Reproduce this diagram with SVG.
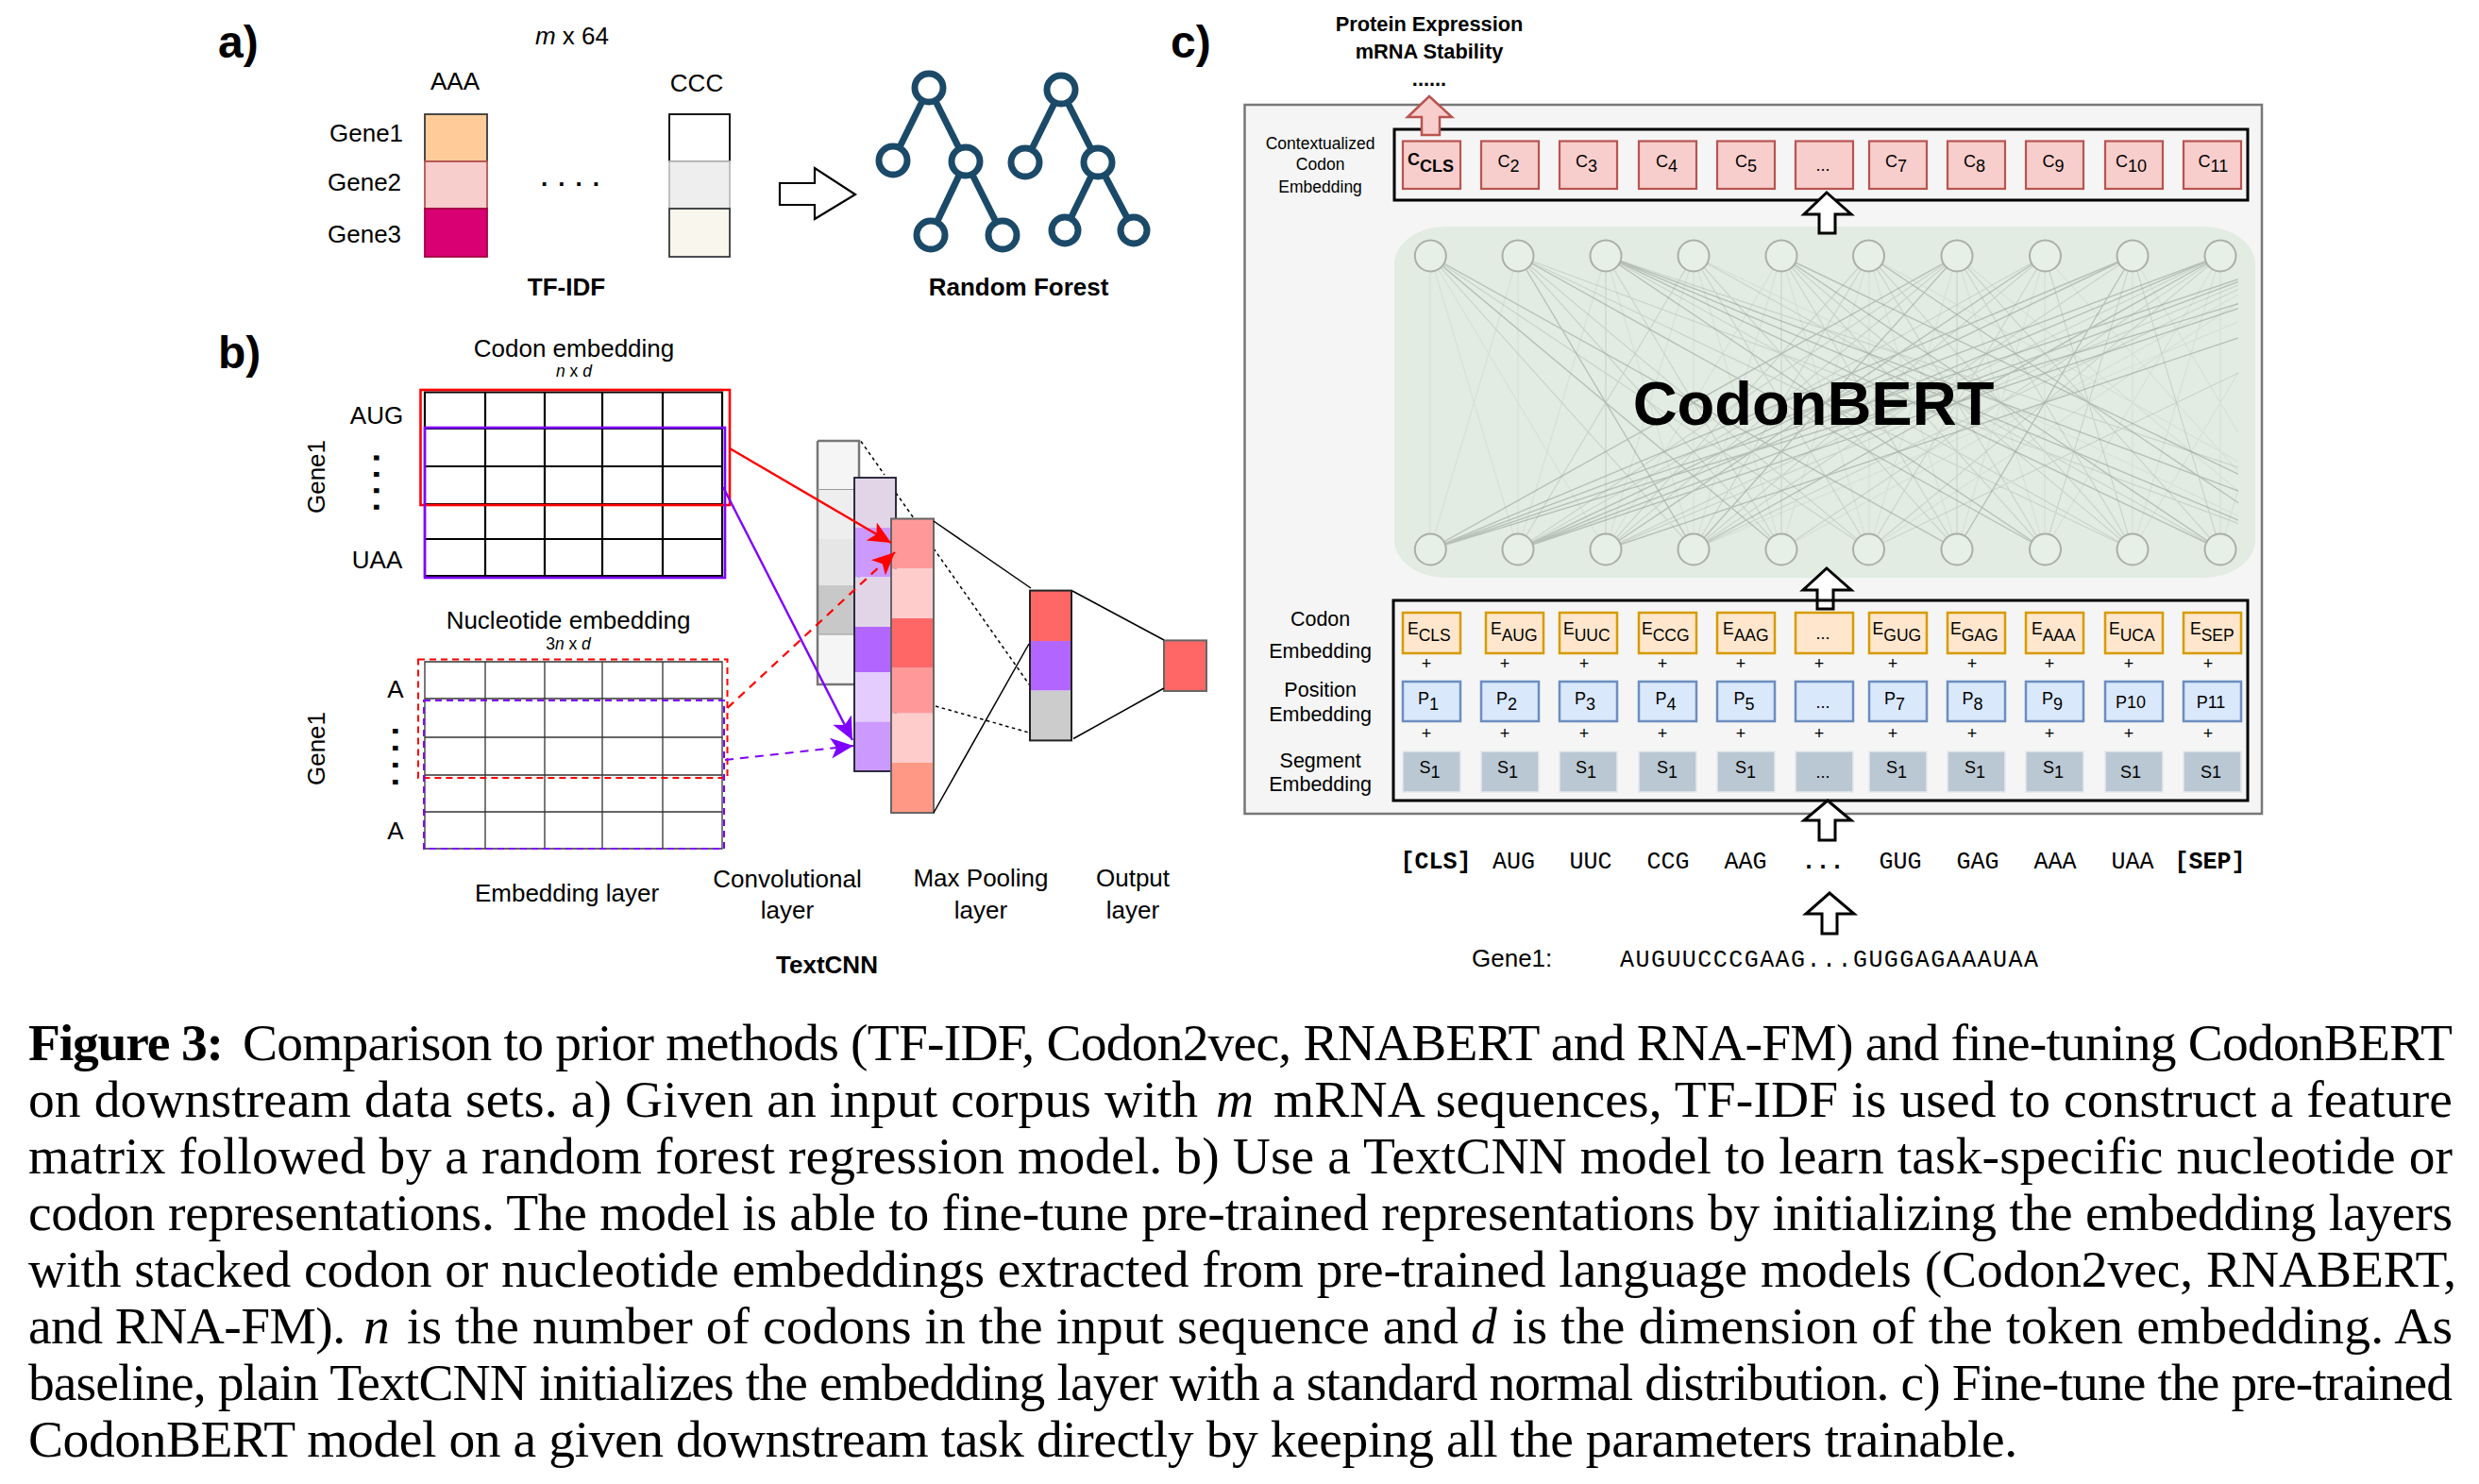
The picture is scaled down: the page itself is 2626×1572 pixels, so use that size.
<svg xmlns="http://www.w3.org/2000/svg" width="2626" height="1572" viewBox="0 0 2626 1572">
<style>
text{font-family:"Liberation Sans",Arial,sans-serif;fill:#000;font-size:26px}
.m{text-anchor:middle}
.b{font-weight:bold}
.i{font-style:italic}
.h{font-size:48px;font-weight:bold}
.s{font-size:17.5px}
.e{font-size:21.5px;text-anchor:middle}
.sm{font-size:18px}
.p{font-size:18px;text-anchor:middle}
.mono{font-family:"Liberation Mono","Courier New",monospace;font-size:25px;text-anchor:middle}
.cap{font-family:"Liberation Serif","Times New Roman",serif;font-size:55.5px}
.vd{font-size:36px;font-weight:bold}
.grid1{fill:none;stroke:#000;stroke-width:2.2}
.grid2{fill:none;stroke:#333;stroke-width:1.3}
.arrow{fill:#fff;stroke:#000;stroke-width:3}
.tree{fill:#fff;stroke:#1b4a68;stroke-width:7}
.tl{stroke:#1b4a68;stroke-width:7}
.c{fill:#f8cecc;stroke:#b85450;stroke-width:2.2}
.ee{fill:#ffe6cc;stroke:#d79b00;stroke-width:2.5}
.pp{fill:#dae8fc;stroke:#6c8ebf;stroke-width:2.5}
.ss{fill:#bac8d3;stroke:#e4e8eb;stroke-width:1.5}
.box{fill:none;stroke:#000;stroke-width:3}
.n{fill:#e6f0e6;stroke:#a9afa9;stroke-width:2}
.thin{stroke:#000;stroke-width:1.5;fill:none}
.dot{stroke:#000;stroke-width:1.5;fill:none;stroke-dasharray:3.5 3.5}
.l1{fill:none;stroke:#7d857d;stroke-width:1.4;opacity:.42}
.l2{fill:none;stroke:#8f968f;stroke-width:1.2;opacity:.28}
.l3{fill:none;stroke:#9aa29a;stroke-width:1.1;opacity:.16}
</style>
<defs>
<marker id="ar" markerUnits="userSpaceOnUse" markerWidth="30" markerHeight="30" refX="24" refY="12" orient="auto" viewBox="0 0 30 24"><path d="M0 1L24 12L0 23L6 12Z" fill="#f00"/></marker>
<marker id="ap" markerUnits="userSpaceOnUse" markerWidth="30" markerHeight="30" refX="24" refY="12" orient="auto" viewBox="0 0 30 24"><path d="M0 1L24 12L0 23L6 12Z" fill="#7f00ff"/></marker>
<clipPath id="nn"><rect x="1477" y="240" width="894" height="372"/></clipPath>
</defs>
<rect width="2626" height="1572" fill="#fff"/>

<g id="panel-a">
<text class="h" x="231" y="61">a)</text>
<text class="m" x="606" y="47"><tspan class="i">m</tspan> x 64</text>
<text class="m" x="482" y="95">AAA</text>
<text class="m" x="738" y="97">CCC</text>
<text x="349" y="150">Gene1</text>
<text x="347" y="202">Gene2</text>
<text x="347" y="257">Gene3</text>
<text x="573" y="197" style="letter-spacing:11px" class="b">....</text>
<text class="m b" x="600" y="313">TF-IDF</text>
<text class="m b" x="1079" y="313">Random Forest</text>
</g>
<g id="aaa-column">
<rect x="450" y="121" width="66" height="50" fill="#ffcc99" stroke="#36393d" stroke-width="1.8"/>
<rect x="450" y="171" width="66" height="50" fill="#f8cecc" stroke="#b85450" stroke-width="1.8"/>
<rect x="450" y="221" width="66" height="51" fill="#d80073" stroke="#a50040" stroke-width="1.8"/>
</g>
<g id="ccc-column">
<rect x="709" y="121" width="64" height="50" fill="#fff" stroke="#000" stroke-width="1.8"/>
<rect x="709" y="171" width="64" height="50" fill="#eee" stroke="#bbb" stroke-width="1.8"/>
<rect x="709" y="221" width="64" height="51" fill="#f9f7ed" stroke="#36393d" stroke-width="1.8"/>
</g>
<g id="a-arrow"><polygon class="arrow" points="826,194 863,194 863,178 906,206 863,232 863,217 826,217" style="stroke-width:2.2"/></g>
<g id="forest">
<path class="tl" d="M984 93L946 170M984 93L1023 171M1023 171L986 249M1023 171L1062 249M1124 95L1086 172M1124 95L1163 172M1163 172L1128 244M1163 172L1201 244"/>
<circle class="tree" cx="984" cy="93" r="15"/><circle class="tree" cx="946" cy="170" r="15"/><circle class="tree" cx="1023" cy="171" r="15"/><circle class="tree" cx="986" cy="249" r="15"/><circle class="tree" cx="1062" cy="249" r="15"/>
<circle class="tree" cx="1124" cy="95" r="15"/><circle class="tree" cx="1086" cy="172" r="15"/><circle class="tree" cx="1163" cy="172" r="15"/><circle class="tree" cx="1128" cy="244" r="14"/><circle class="tree" cx="1201" cy="244" r="14"/>
</g>

<g id="panel-b-labels">
<text class="h" x="231" y="390">b)</text>
<text class="m" x="608" y="378">Codon embedding</text>
<text class="m" x="608" y="398.5" style="font-size:17.5px"><tspan class="i">n</tspan> x <tspan class="i">d</tspan></text>
<text class="m" x="399" y="449">AUG</text>
<text class="m" x="399.5" y="602">UAA</text>
<text class="vd" transform="translate(396.4 480) rotate(90)" style="letter-spacing:7.4px">....</text>
<text class="m" transform="translate(344 505) rotate(-90)">Gene1</text>
<text class="m" x="602" y="666">Nucleotide embedding</text>
<text class="m" x="602" y="688" style="font-size:17.5px">3<tspan class="i">n</tspan> x <tspan class="i">d</tspan></text>
<text class="m" x="419" y="739">A</text>
<text class="m" x="419" y="888.5">A</text>
<text class="vd" transform="translate(416.4 769.5) rotate(90)" style="letter-spacing:8px">....</text>
<text class="m" transform="translate(344 793) rotate(-90)">Gene1</text>
<text class="m" x="600.5" y="954.5">Embedding layer</text>
<text class="m" x="834" y="940">Convolutional</text><text class="m" x="834" y="973">layer</text>
<text class="m" x="1039" y="939">Max Pooling</text><text class="m" x="1039" y="973">layer</text>
<text class="m" x="1200" y="939">Output</text><text class="m" x="1200" y="973">layer</text>
<text class="m b" x="876" y="1031">TextCNN</text>
</g>
<g id="codon-grid">
<path class="grid1" d="M450 415.5H765V610H450ZM514 415.5V610M577 415.5V610M638 415.5V610M702 415.5V610M450 454H765M450 494H765M450 534H765M450 571H765"/>
</g>
<g id="nucleotide-grid">
<path class="grid2" d="M450 701H765V899H450ZM514 701V899M577 701V899M638 701V899M702 701V899M450 740H765M450 781H765M450 821H765M450 860H765"/>
</g>
<g id="conv-gray">
<rect x="866" y="467" width="44" height="51.5" fill="#f5f5f5"/><rect x="866" y="518.5" width="44" height="52.5" fill="#eee"/><rect x="866" y="571" width="44" height="49" fill="#e6e6e6"/><rect x="866" y="620" width="44" height="52" fill="#c8c8c8"/><rect x="866" y="672" width="44" height="53" fill="#f5f5f5"/>
<path d="M866 467H910V672M866 467V725H910" fill="none" stroke="#777" stroke-width="2.5"/>
<path d="M866 518.5H910M866 672H910" fill="none" stroke="#999" stroke-width="1"/>
</g>
<g id="connectors-dotted">
<path class="dot" d="M912 467.5L937 503M949 522L968 549M989 581L1093 729M991 748L1090 776"/>
</g>
<g id="conv-purple">
<rect x="905" y="506" width="44" height="53" fill="#e1d5e7"/><rect x="905" y="559" width="44" height="52.5" fill="#cc99ff"/><rect x="905" y="611.5" width="44" height="52.5" fill="#e1d5e7"/><rect x="905" y="664" width="44" height="48" fill="#b266ff"/><rect x="905" y="712" width="44" height="52.5" fill="#e5ccff"/><rect x="905" y="764.5" width="44" height="52.5" fill="#cc99ff"/>
<rect x="905" y="506" width="44" height="311" fill="none" stroke="#1a1a2e" stroke-width="1.8"/>
</g>
<g id="conv-red">
<rect x="944" y="549.5" width="45" height="53" fill="#ff9999"/><rect x="944" y="602.5" width="45" height="52.5" fill="#ffcccc"/><rect x="944" y="655" width="45" height="52" fill="#ff6666"/><rect x="944" y="707" width="45" height="48.7" fill="#ff9999"/><rect x="944" y="755.7" width="45" height="52.3" fill="#ffcccc"/><rect x="944" y="808" width="45" height="53" fill="#ff9985"/>
<rect x="944" y="549.5" width="45" height="311.5" fill="none" stroke="#666" stroke-width="2"/>
</g>
<g id="maxpool">
<rect x="1091" y="625.6" width="44" height="53.4" fill="#ff6666"/><rect x="1091" y="679" width="44" height="52.6" fill="#b266ff"/><rect x="1091" y="731.6" width="44" height="52.8" fill="#ccc"/>
<rect x="1091" y="625.6" width="44" height="158.8" fill="none" stroke="#222" stroke-width="2"/>
</g>
<g id="output"><rect x="1233" y="678.4" width="45" height="53.6" fill="#ff6666" stroke="#666" stroke-width="2"/></g>
<g id="connectors">
<path class="thin" d="M989 552L1092 623M989 861L1090 682M1136 626L1233 678M1137 782.5L1233 729"/>
<rect x="445.5" y="413" width="327.5" height="122" fill="none" stroke="#f00" stroke-width="2.6"/>
<rect x="450" y="453" width="318" height="159" fill="none" stroke="#7f00ff" stroke-width="2.6"/>
<rect x="443" y="698.6" width="327.5" height="125.4" fill="none" stroke="#f00" stroke-width="2" stroke-dasharray="7 5"/>
<rect x="449" y="742" width="318" height="157" fill="none" stroke="#7f00ff" stroke-width="2" stroke-dasharray="7 5"/>
<path d="M773 475L944 575" fill="none" stroke="#f00" stroke-width="2.4" marker-end="url(#ar)"/>
<path d="M770.5 750L948 585" fill="none" stroke="#f00" stroke-width="2.2" stroke-dasharray="9 7" marker-end="url(#ar)"/>
<path d="M766 516L903 784" fill="none" stroke="#7f00ff" stroke-width="2.4" marker-end="url(#ap)"/>
<path d="M768 805L904 790" fill="none" stroke="#7f00ff" stroke-width="2.2" stroke-dasharray="9 7" marker-end="url(#ap)"/>
</g>

<g id="panel-c-head">
<text class="h" x="1240" y="61">c)</text>
<text class="m b" x="1514" y="33" style="font-size:21.8px">Protein Expression</text>
<text class="m b" x="1514" y="61.5" style="font-size:21.8px">mRNA Stability</text>
<text class="m b" x="1514" y="91" style="font-size:21.8px">......</text>
</g>
<g id="panel-c-frame"><rect x="1318.5" y="111" width="1077.5" height="751" fill="#f5f5f5" stroke="#777" stroke-width="2.5"/></g>
<g id="network">
<rect x="1477" y="240" width="912" height="372" rx="55" ry="40" fill="#e2ece2"/>
<g clip-path="url(#nn)">
<path class="l1" d="M1515 271L1887 582M1515 271L2073 582M1608 271L1794 582M1608 271L2166 582M1701 271L2166 582M1701 271L2352 582M1701 271L2445 582M1701 271L2538 582M1887 271L2352 582M1887 271L2538 582M1980 271L2445 582M2073 271L1515 582M2073 271L1794 582M2166 271L1701 582M2259 271L1515 582M2259 271L1608 582M2259 271L2073 582M2352 271L1515 582M2352 271L1608 582M2352 271L1794 582M2445 271L1515 582M2445 271L1608 582M2538 271L1515 582M2538 271L1608 582M2631 271L1701 582"/>
<path class="l2" d="M1515 271L1980 582M1515 271L1794 582M1608 271L1887 582M1608 271L1980 582M1608 271L2259 582M1701 271L1887 582M1701 271L2259 582M1794 271L1980 582M1794 271L2073 582M1794 271L2352 582M1887 271L2073 582M1887 271L2166 582M1887 271L2259 582M1980 271L2166 582M1980 271L2259 582M2073 271L1608 582M2073 271L1701 582M2073 271L2259 582M2073 271L2352 582M2166 271L1608 582M2166 271L1794 582M2166 271L1980 582M2166 271L2259 582M2259 271L1794 582M2259 271L2166 582M2259 271L2352 582M2352 271L1701 582M2352 271L1887 582M2352 271L1980 582M1980 271L1701 582M1980 271L1794 582M2445 271L1701 582M2445 271L1794 582M1794 271L1608 582M1701 271L2631 582M1608 271L2445 582M2631 271L1980 582M1701 271L1701 582M1887 271L1887 582M2073 271L2073 582"/>
<path class="l3" d="M1515 271L1515 582M1608 271L1608 582M1794 271L1794 582M1980 271L1980 582M2166 271L2166 582M2259 271L2259 582M2352 271L2352 582M1515 271L1608 582M1515 271L1701 582M1608 271L1515 582M1701 271L1608 582M1701 271L1794 582M1794 271L1701 582M1794 271L1887 582M1887 271L1701 582M1887 271L1794 582M1887 271L1980 582M1980 271L1887 582M1980 271L2073 582M2073 271L1980 582M2073 271L2166 582M2166 271L2073 582M2352 271L2166 582M2352 271L2259 582M2445 271L1887 582M2445 271L1980 582M2538 271L1794 582M1794 271L2445 582M1980 271L2538 582M2073 271L2445 582M2166 271L2445 582M2259 271L2445 582M2445 271L2352 582M2445 271L2259 582"/>
</g>
<text class="m b" x="1921" y="450" style="font-size:65px">CodonBERT</text>
</g>
<g id="bert-top-nodes">
<circle class="n" cx="1515.3" cy="271" r="16.5"/><circle class="n" cx="1608" cy="271" r="16.5"/><circle class="n" cx="1701" cy="271" r="16.5"/><circle class="n" cx="1794" cy="271" r="16.5"/><circle class="n" cx="1887" cy="271" r="16.5"/><circle class="n" cx="1979.5" cy="271" r="16.5"/><circle class="n" cx="2073" cy="271" r="16.5"/><circle class="n" cx="2166.5" cy="271" r="16.5"/><circle class="n" cx="2259" cy="271" r="16.5"/><circle class="n" cx="2352" cy="271" r="16.5"/>
</g>
<g id="bert-bottom-nodes">
<circle class="n" cx="1515.3" cy="582" r="16.5"/><circle class="n" cx="1608" cy="582" r="16.5"/><circle class="n" cx="1701" cy="582" r="16.5"/><circle class="n" cx="1794" cy="582" r="16.5"/><circle class="n" cx="1887" cy="582" r="16.5"/><circle class="n" cx="1979.5" cy="582" r="16.5"/><circle class="n" cx="2073" cy="582" r="16.5"/><circle class="n" cx="2166.5" cy="582" r="16.5"/><circle class="n" cx="2259" cy="582" r="16.5"/><circle class="n" cx="2352" cy="582" r="16.5"/>
</g>

<g id="context-box">
<text class="m s" x="1398.6" y="158">Contextualized</text><text class="m s" x="1398.6" y="180">Codon</text><text class="m s" x="1398.6" y="204">Embedding</text>
<rect class="box" x="1477" y="137" width="904" height="75"/>
</g>
<g id="out-arrow"><polygon points="1514,102 1538,124 1525,124 1525,143 1506,143 1506,124 1491,124" fill="#f8cecc" stroke="#b85450" stroke-width="2.5"/></g>
<g id="c-cells">
<g id="c1"><rect class="c" x="1486" y="149.5" width="61" height="50.5"/><text class="sm b" x="1491" y="175">C<tspan dy="7">CLS</tspan></text></g>
<g id="c2"><rect class="c" x="1569" y="149.5" width="61" height="50.5"/><text class="sm" x="1586.4" y="177">C<tspan dy="5">2</tspan></text></g>
<g id="c3"><rect class="c" x="1652" y="149.5" width="61" height="50.5"/><text class="sm" x="1669" y="177">C<tspan dy="5">3</tspan></text></g>
<g id="c4"><rect class="c" x="1736" y="149.5" width="61" height="50.5"/><text class="sm" x="1754" y="177">C<tspan dy="5">4</tspan></text></g>
<g id="c5"><rect class="c" x="1819" y="149.5" width="61" height="50.5"/><text class="sm" x="1838" y="177">C<tspan dy="5">5</tspan></text></g>
<g id="c6"><rect class="c" x="1902" y="149.5" width="61" height="50.5"/><text class="p" x="1931" y="181">...</text></g>
<g id="c7"><rect class="c" x="1980" y="149.5" width="61" height="50.5"/><text class="sm" x="1997" y="177">C<tspan dy="5">7</tspan></text></g>
<g id="c8"><rect class="c" x="2063" y="149.5" width="61" height="50.5"/><text class="sm" x="2080" y="177">C<tspan dy="5">8</tspan></text></g>
<g id="c9"><rect class="c" x="2146" y="149.5" width="61" height="50.5"/><text class="sm" x="2163.6" y="177">C<tspan dy="5">9</tspan></text></g>
<g id="c10"><rect class="c" x="2230" y="149.5" width="61" height="50.5"/><text class="sm" x="2241" y="177">C<tspan dy="5">10</tspan></text></g>
<g id="c11"><rect class="c" x="2313" y="149.5" width="61" height="50.5"/><text class="sm" x="2328.6" y="177">C<tspan dy="5">11</tspan></text></g>
</g>
<g id="top-arrow"><polygon class="arrow" points="1935,204 1961,227 1944,227 1944,247 1927,247 1927,227 1911,227"/></g>
<g id="mid-arrow"><polygon class="arrow" points="1935,602 1961,625 1942,625 1942,645 1925,645 1925,625 1910,625"/></g>

<g id="embed-box">
<text class="e" x="1398.6" y="663">Codon</text><text class="e" x="1398.6" y="697">Embedding</text>
<text class="e" x="1398.6" y="738">Position</text><text class="e" x="1398.6" y="764">Embedding</text>
<text class="e" x="1398.6" y="813">Segment</text><text class="e" x="1398.6" y="838">Embedding</text>
<rect class="box" x="1476" y="636" width="905" height="212"/>
</g>
<g id="e-cells">
<g id="e1"><rect class="ee" x="1486" y="649" width="61" height="43"/><text class="s" x="1491" y="672">E<tspan dy="7">CLS</tspan></text></g>
<g id="e2"><rect class="ee" x="1574" y="649" width="61" height="43"/><text class="s" x="1579" y="672">E<tspan dy="7">AUG</tspan></text></g>
<g id="e3"><rect class="ee" x="1652" y="649" width="61" height="43"/><text class="s" x="1656" y="672">E<tspan dy="7">UUC</tspan></text></g>
<g id="e4"><rect class="ee" x="1736" y="649" width="61" height="43"/><text class="s" x="1739" y="672">E<tspan dy="7">CCG</tspan></text></g>
<g id="e5"><rect class="ee" x="1819" y="649" width="61" height="43"/><text class="s" x="1825" y="672">E<tspan dy="7">AAG</tspan></text></g>
<g id="e6"><rect class="ee" x="1902" y="649" width="61" height="43"/><text class="p" x="1931" y="677">...</text></g>
<g id="e7"><rect class="ee" x="1980" y="649" width="61" height="43"/><text class="s" x="1983.6" y="672">E<tspan dy="7">GUG</tspan></text></g>
<g id="e8"><rect class="ee" x="2063" y="649" width="61" height="43"/><text class="s" x="2066" y="672">E<tspan dy="7">GAG</tspan></text></g>
<g id="e9"><rect class="ee" x="2146" y="649" width="61" height="43"/><text class="s" x="2152" y="672">E<tspan dy="7">AAA</tspan></text></g>
<g id="e10"><rect class="ee" x="2230" y="649" width="61" height="43"/><text class="s" x="2234" y="672">E<tspan dy="7">UCA</tspan></text></g>
<g id="e11"><rect class="ee" x="2313" y="649" width="61" height="43"/><text class="s" x="2320" y="672">E<tspan dy="7">SEP</tspan></text></g>
</g>
<g id="plus-signs">
<text class="p" x="1511" y="709">+</text><text class="p" x="1594" y="709">+</text><text class="p" x="1678" y="709">+</text><text class="p" x="1761" y="709">+</text><text class="p" x="1844" y="709">+</text><text class="p" x="1927" y="709">+</text><text class="p" x="2005" y="709">+</text><text class="p" x="2089" y="709">+</text><text class="p" x="2171" y="709">+</text><text class="p" x="2255" y="709">+</text><text class="p" x="2339" y="709">+</text>
<text class="p" x="1511" y="783">+</text><text class="p" x="1594" y="783">+</text><text class="p" x="1678" y="783">+</text><text class="p" x="1761" y="783">+</text><text class="p" x="1844" y="783">+</text><text class="p" x="1927" y="783">+</text><text class="p" x="2005" y="783">+</text><text class="p" x="2089" y="783">+</text><text class="p" x="2171" y="783">+</text><text class="p" x="2255" y="783">+</text><text class="p" x="2339" y="783">+</text>
</g>
<g id="p-cells">
<g id="p1"><rect class="pp" x="1486" y="722" width="61" height="42"/><text class="sm" x="1502" y="746">P<tspan dy="6">1</tspan></text></g>
<g id="p2"><rect class="pp" x="1569" y="722" width="61" height="42"/><text class="sm" x="1585" y="746">P<tspan dy="6">2</tspan></text></g>
<g id="p3"><rect class="pp" x="1652" y="722" width="61" height="42"/><text class="sm" x="1668" y="746">P<tspan dy="6">3</tspan></text></g>
<g id="p4"><rect class="pp" x="1736" y="722" width="61" height="42"/><text class="sm" x="1753.6" y="746">P<tspan dy="6">4</tspan></text></g>
<g id="p5"><rect class="pp" x="1819" y="722" width="61" height="42"/><text class="sm" x="1836.4" y="746">P<tspan dy="6">5</tspan></text></g>
<g id="p6"><rect class="pp" x="1902" y="722" width="61" height="42"/><text class="p" x="1931" y="750">...</text></g>
<g id="p7"><rect class="pp" x="1980" y="722" width="61" height="42"/><text class="sm" x="1996" y="746">P<tspan dy="6">7</tspan></text></g>
<g id="p8"><rect class="pp" x="2063" y="722" width="61" height="42"/><text class="sm" x="2078.6" y="746">P<tspan dy="6">8</tspan></text></g>
<g id="p9"><rect class="pp" x="2146" y="722" width="61" height="42"/><text class="sm" x="2163" y="746">P<tspan dy="6">9</tspan></text></g>
<g id="p10"><rect class="pp" x="2230" y="722" width="61" height="42"/><text class="p" x="2257" y="750">P10</text></g>
<g id="p11"><rect class="pp" x="2313" y="722" width="61" height="42"/><text class="p" x="2342" y="750">P11</text></g>
</g>
<g id="s-cells">
<g id="s1"><rect class="ss" x="1486" y="796" width="61" height="43"/><text class="sm" x="1503.6" y="819">S<tspan dy="5">1</tspan></text></g>
<g id="s2"><rect class="ss" x="1569" y="796" width="61" height="43"/><text class="sm" x="1586" y="819">S<tspan dy="5">1</tspan></text></g>
<g id="s3"><rect class="ss" x="1652" y="796" width="61" height="43"/><text class="sm" x="1669" y="819">S<tspan dy="5">1</tspan></text></g>
<g id="s4"><rect class="ss" x="1736" y="796" width="61" height="43"/><text class="sm" x="1755" y="819">S<tspan dy="5">1</tspan></text></g>
<g id="s5"><rect class="ss" x="1819" y="796" width="61" height="43"/><text class="sm" x="1838" y="819">S<tspan dy="5">1</tspan></text></g>
<g id="s6"><rect class="ss" x="1902" y="796" width="61" height="43"/><text class="p" x="1931" y="824">...</text></g>
<g id="s7"><rect class="ss" x="1980" y="796" width="61" height="43"/><text class="sm" x="1998" y="819">S<tspan dy="5">1</tspan></text></g>
<g id="s8"><rect class="ss" x="2063" y="796" width="61" height="43"/><text class="sm" x="2081" y="819">S<tspan dy="5">1</tspan></text></g>
<g id="s9"><rect class="ss" x="2146" y="796" width="61" height="43"/><text class="sm" x="2164" y="819">S<tspan dy="5">1</tspan></text></g>
<g id="s10"><rect class="ss" x="2230" y="796" width="61" height="43"/><text class="p" x="2257" y="824">S1</text></g>
<g id="s11"><rect class="ss" x="2313" y="796" width="61" height="43"/><text class="p" x="2342" y="824">S1</text></g>
</g>
<g id="low-arrow"><polygon class="arrow" points="1936,848 1961,869 1944,869 1944,890 1927,890 1927,869 1911,869"/></g>
<g id="tokens">
<text class="mono b" x="1521" y="920">[CLS]</text><text class="mono" x="1603.6" y="920">AUG</text><text class="mono" x="1685" y="920">UUC</text><text class="mono" x="1767" y="920">CCG</text><text class="mono" x="1849" y="920">AAG</text><text class="mono b" x="1931" y="920">...</text><text class="mono" x="2013" y="920">GUG</text><text class="mono" x="2095" y="920">GAG</text><text class="mono" x="2177" y="920">AAA</text><text class="mono" x="2259" y="920">UAA</text><text class="mono b" x="2341" y="920">[SEP]</text>
</g>
<g id="input-arrow"><polygon class="arrow" points="1938,946 1964,968 1946,968 1946,989 1930,989 1930,968 1913,968"/></g>
<g id="input-seq">
<text x="1559" y="1024">Gene1:</text>
<text class="mono" x="1716" y="1024" style="text-anchor:start" textLength="443" lengthAdjust="spacing">AUGUUCCCGAAG...GUGGAGAAAUAA</text>
</g>

<g id="caption">
<text class="cap b" x="30" y="1123" textLength="207">Figure 3:</text>
<text class="cap" x="257" y="1123" textLength="2341">Comparison to prior methods (TF-IDF, Codon2vec, RNABERT and RNA-FM) and fine-tuning CodonBERT</text>
<text class="cap" x="30" y="1183" textLength="1239">on downstream data sets. a) Given an input corpus with</text>
<text class="cap i" x="1288" y="1183" textLength="42">m</text>
<text class="cap" x="1349" y="1183" textLength="1249">mRNA sequences, TF-IDF is used to construct a feature</text>
<text class="cap" x="30" y="1243" textLength="2568">matrix followed by a random forest regression model. b) Use a TextCNN model to learn task-specific nucleotide or</text>
<text class="cap" x="30" y="1303" textLength="2568">codon representations. The model is able to fine-tune pre-trained representations by initializing the embedding layers</text>
<text class="cap" x="30" y="1363" textLength="2572">with stacked codon or nucleotide embeddings extracted from pre-trained language models (Codon2vec, RNABERT,</text>
<text class="cap" x="30" y="1423" textLength="336">and RNA-FM).</text>
<text class="cap i" x="385" y="1423" textLength="29">n</text>
<text class="cap" x="431" y="1423" textLength="1114">is the number of codons in the input sequence and</text>
<text class="cap i" x="1558" y="1423" textLength="29">d</text>
<text class="cap" x="1602" y="1423" textLength="996">is the dimension of the token embedding. As</text>
<text class="cap" x="30" y="1483" textLength="2568">baseline, plain TextCNN initializes the embedding layer with a standard normal distribution. c) Fine-tune the pre-trained</text>
<text class="cap" x="30" y="1543" textLength="2107">CodonBERT model on a given downstream task directly by keeping all the parameters trainable.</text>
</g>
</svg>
